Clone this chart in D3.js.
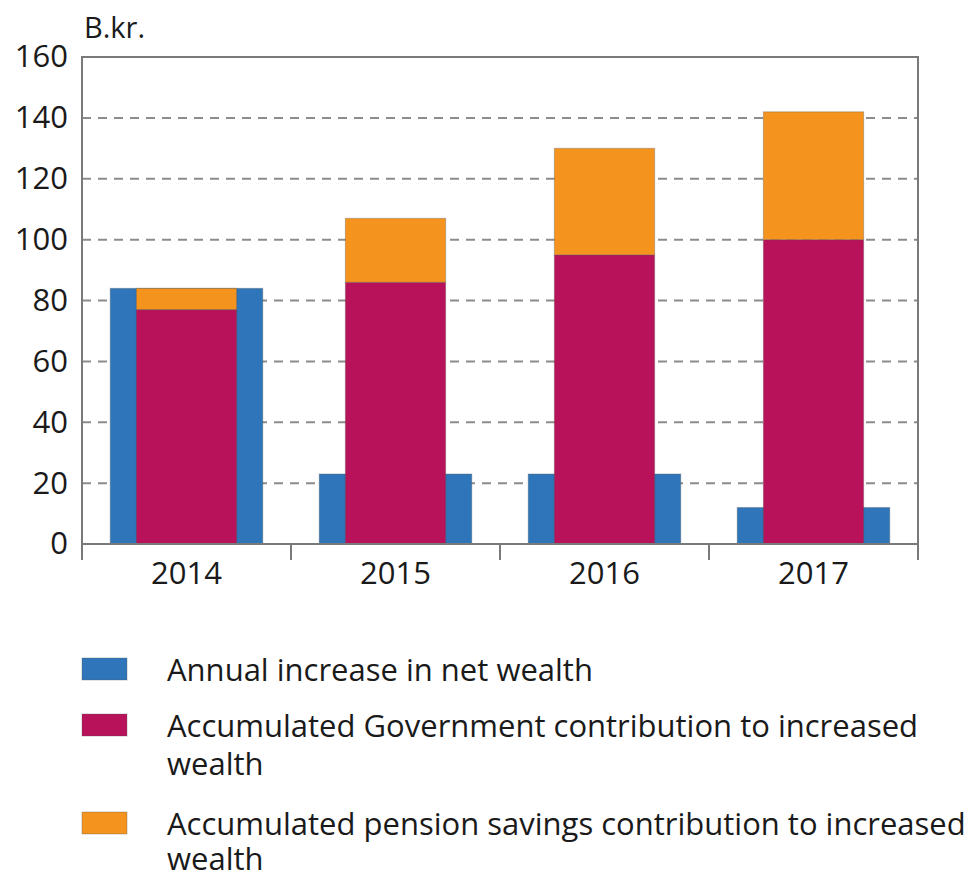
<!DOCTYPE html>
<html>
<head>
<meta charset="utf-8">
<script src="https://cdn.jsdelivr.net/npm/d3@7"></script>
<style>
  html, body { margin: 0; padding: 0; background: #fff; }
  svg { display: block; font-family: "Open Sans", "DejaVu Sans", sans-serif; }
</style>
</head>
<body>
<svg id="chart" width="967" height="876"></svg>
<script>
// Data (billion kroner)
const years = ["2014", "2015", "2016", "2017"];
const annualIncrease = [84, 23, 23, 12];
const governmentContribution = [77, 86, 95, 100];
const pensionContribution = [7, 21, 35, 42];
const yTicks = [0, 20, 40, 60, 80, 100, 120, 140, 160];
const unitLabel = "B.kr.";
const legendItems = [
  { lines: ["Annual increase in net wealth"], color: "#2e75b9" },
  { lines: ["Accumulated Government contribution to increased", "wealth"], color: "#b8125a" },
  { lines: ["Accumulated pension savings contribution to increased", "wealth"], color: "#f4931e" }
];

const svg = d3.select("#chart");
const margin = { left: 82, right: 49, top: 57, bottom: 332 };
const W = 967, H = 876;
const x0 = margin.left, x1 = W - margin.right;
const y0 = H - margin.bottom, y1 = margin.top;

const x = d3.scaleBand().domain(years).range([x0, x1]).paddingInner(0).paddingOuter(0);
const y = d3.scaleLinear().domain([0, 160]).range([y0, y1]);

const gridColor = "#8c8c8c";
const frameColor = "#7a7a7a";

// dashed grid lines
svg.append("g").selectAll("line")
  .data(yTicks.filter(t => t > 0 && t < 160))
  .join("line")
  .attr("x1", x0).attr("x2", x1)
  .attr("y1", d => y(d)).attr("y2", d => y(d))
  .attr("stroke", gridColor)
  .attr("stroke-width", 2)
  .attr("stroke-dasharray", "9,7");

const blueW = x.bandwidth() * 0.73;
const stackW = x.bandwidth() * 0.48;
const edge = "rgba(90,90,90,0.35)";

// wide background bars: annual increase
svg.append("g").selectAll("rect")
  .data(years)
  .join("rect")
  .attr("x", d => x(d) + (x.bandwidth() - blueW) / 2)
  .attr("width", blueW)
  .attr("y", (d, i) => y(annualIncrease[i]))
  .attr("height", (d, i) => y(0) - y(annualIncrease[i]))
  .attr("fill", legendItems[0].color)
  .attr("stroke", edge).attr("stroke-width", 1);

// stacked narrow bars: government + pension
const stackData = years.map((yr, i) => ({ year: yr, gov: governmentContribution[i], pen: pensionContribution[i] }));
const stacked = d3.stack().keys(["gov", "pen"])(stackData);
const stackColors = { gov: legendItems[1].color, pen: legendItems[2].color };

svg.append("g").selectAll("g")
  .data(stacked)
  .join("g")
  .attr("fill", s => stackColors[s.key])
  .selectAll("rect")
  .data(s => s)
  .join("rect")
  .attr("x", d => x(d.data.year) + (x.bandwidth() - stackW) / 2)
  .attr("width", stackW)
  .attr("y", d => y(d[1]))
  .attr("height", d => y(d[0]) - y(d[1]))
  .attr("stroke", edge).attr("stroke-width", 1);

// frame
svg.append("rect")
  .attr("x", x0).attr("y", y1)
  .attr("width", x1 - x0).attr("height", y0 - y1)
  .attr("fill", "none")
  .attr("stroke", frameColor)
  .attr("stroke-width", 2);

// x axis: ticks at category boundaries
const xAxisG = svg.append("g").attr("transform", `translate(0,${y0})`);
const boundaries = years.map(d => x(d)).concat([x1]);
xAxisG.selectAll("line.tick")
  .data(boundaries)
  .join("line")
  .attr("class", "tick")
  .attr("x1", d => d).attr("x2", d => d)
  .attr("y1", 0).attr("y2", 16)
  .attr("stroke", frameColor).attr("stroke-width", 2);
xAxisG.selectAll("text")
  .data(years)
  .join("text")
  .attr("x", d => x(d) + x.bandwidth() / 2)
  .attr("y", 40)
  .attr("text-anchor", "middle")
  .attr("font-size", 31)
  .attr("fill", "#1a1a1a")
  .text(d => d);

// y axis labels
const yAxis = d3.axisLeft(y).tickValues(yTicks).tickSize(0).tickPadding(14);
const yAxisG = svg.append("g").attr("transform", `translate(${x0},0)`).call(yAxis);
yAxisG.select(".domain").remove();
yAxisG.selectAll("text")
  .attr("font-size", 31)
  .attr("font-family", "\"Open Sans\", sans-serif")
  .attr("fill", "#1a1a1a");

// unit label
svg.append("text")
  .attr("x", 84).attr("y", 38)
  .attr("font-size", 29)
  .attr("fill", "#1a1a1a")
  .text(unitLabel);

// legend
const legendRows = [
  { top: 658, base: 681, lead: 38 },
  { top: 714, base: 737, lead: 38 },
  { top: 812, base: 835, lead: 35 }
];
const legend = svg.append("g");
legendItems.forEach((item, i) => {
  const row = legendRows[i];
  legend.append("rect")
    .attr("x", 82).attr("y", row.top)
    .attr("width", 45).attr("height", 22)
    .attr("fill", item.color)
    .attr("stroke", "rgba(90,90,90,0.35)").attr("stroke-width", 1);
  const t = legend.append("text")
    .attr("x", 167).attr("y", row.base)
    .attr("font-size", 31)
    .attr("fill", "#1a1a1a");
  item.lines.forEach((ln, j) => {
    t.append("tspan").attr("x", 167).attr("dy", j === 0 ? 0 : row.lead).text(ln);
  });
});
</script>
</body>
</html>
